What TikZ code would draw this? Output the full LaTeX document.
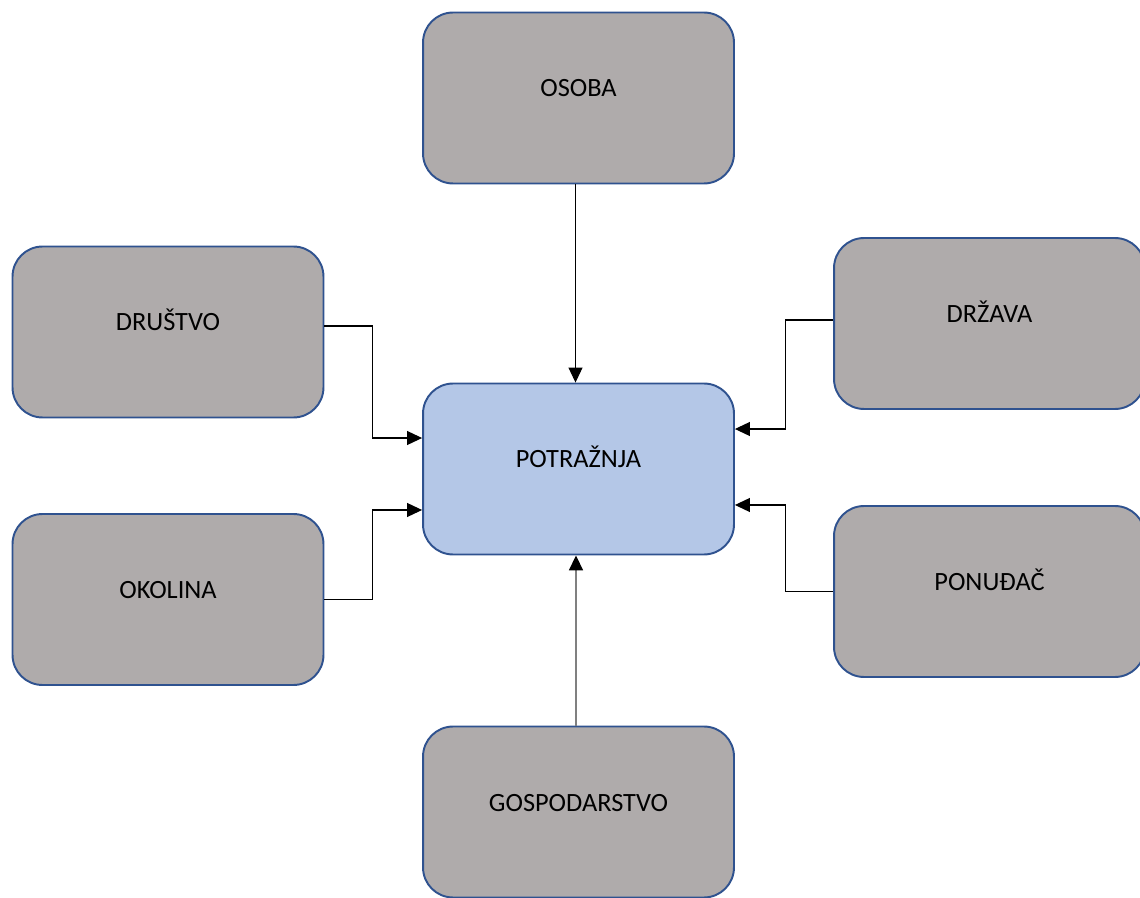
\documentclass[tikz,border=0pt]{standalone}
\usepackage{fontspec}
\setmainfont{Carlito}
\usepackage{xcolor}
\usepackage{tikz}
\usetikzlibrary{arrows.meta}
\definecolor{boxgray}{HTML}{AFABAB}
\definecolor{boxedge}{HTML}{2F528F}
\definecolor{hubblue}{HTML}{B4C7E7}
\definecolor{upline}{HTML}{808080}
\tikzset{
  box/.style={rectangle, rounded corners=0.6cm, draw=boxedge, line width=1.1pt, fill=boxgray,
    minimum width=6.22cm, minimum height=3.42cm, inner sep=0pt,
    font=\fontsize{15}{18}\selectfont, text height=0.34cm, text depth=0.38cm},
  hub/.style={box, fill=hubblue},
  conn/.style={-{Triangle[length=0.3cm,width=0.28cm]}, line width=0.6pt, draw=black},
  connup/.style={-{Triangle[length=0.3cm,width=0.28cm,color=black]}, line width=1pt, draw=upline}
}

\begin{document}
\begin{tikzpicture}[x=0.02cm, y=-0.02cm]
  \useasboundingbox (0,0) rectangle (1140,898);

  % centre and the six influences
  \node[hub] (potraznja) at (578.5,469) {POTRAŽNJA};
  \node[box] (osoba) at (578.5,98) {OSOBA};
  \node[box] (drustvo) at (168,332) {DRUŠTVO};
  \node[box] (okolina) at (168,599.5) {OKOLINA};
  \node[box] (drzava) at (989.5,323.5) {DRŽAVA};
  \node[box] (ponudac) at (989.5,591.5) {PONUĐAČ};
  \node[box] (gospodarstvo) at (578.5,812) {GOSPODARSTVO};

  % connectors
  \draw[conn] ([xshift=-0.06cm]osoba.south) -- ([xshift=-0.06cm]potraznja.north);
  \draw[connup] ([xshift=-0.05cm]gospodarstvo.north) -- ([xshift=-0.05cm]potraznja.south);
  \draw[conn] ([yshift=0.12cm]drustvo.east) -- ++(48,0) |- ([yshift=0.62cm]potraznja.west);
  \draw[conn] (okolina.east) -- ++(48,0) |- ([yshift=-0.82cm]potraznja.west);
  \draw[conn] ([yshift=0.07cm]drzava.west) -- ++(-48,0) |- ([yshift=0.8cm]potraznja.east);
  \draw[conn] (ponudac.west) -- ++(-48,0) |- ([yshift=-0.72cm]potraznja.east);
\end{tikzpicture}
\end{document}
